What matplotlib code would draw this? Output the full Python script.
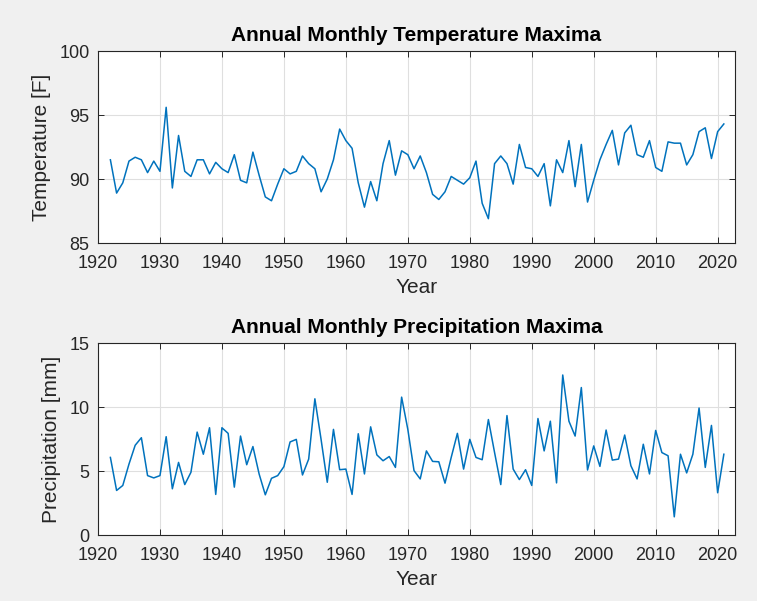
import matplotlib
matplotlib.use("Agg")
import matplotlib.pyplot as plt
import numpy as np

plt.rcParams['font.family'] = ['Liberation Sans', 'DejaVu Sans']

years = np.arange(1922, 2022)

# monthly maxima per year, degrees F
temp_max = [
    91.5, 88.9, 89.7, 91.4, 91.7, 91.5, 90.5, 91.4, 90.6, 95.6,
    89.3, 93.4, 90.6, 90.2, 91.5, 91.5, 90.4, 91.3, 90.8, 90.5,
    91.9, 89.9, 89.7, 92.1, 90.3, 88.6, 88.3, 89.6, 90.8, 90.4,
    90.6, 91.8, 91.2, 90.8, 89.0, 90.0, 91.5, 93.9, 93.0, 92.4,
    89.7, 87.8, 89.8, 88.3, 91.2, 93.0, 90.3, 92.2, 91.9, 90.8,
    91.8, 90.5, 88.8, 88.4, 89.0, 90.2, 89.9, 89.6, 90.1, 91.4,
    88.1, 86.9, 91.2, 91.8, 91.2, 89.6, 92.7, 90.9, 90.8, 90.2,
    91.2, 87.9, 91.5, 90.5, 93.0, 89.4, 92.7, 88.2, 89.9, 91.5,
    92.7, 93.8, 91.1, 93.6, 94.2, 91.9, 91.7, 93.0, 90.9, 90.6,
    92.9, 92.8, 92.8, 91.1, 91.9, 93.7, 94.0, 91.6, 93.7, 94.3,
]

# monthly maxima per year, mm
precip_max = [
    6.06, 3.48, 3.87, 5.54, 7.01, 7.60, 4.64, 4.46, 4.64, 7.68,
    3.61, 5.67, 3.94, 4.90, 8.04, 6.31, 8.38, 3.17, 8.38, 7.94,
    3.74, 7.73, 5.49, 6.91, 4.77, 3.14, 4.43, 4.64, 5.34, 7.27,
    7.47, 4.69, 5.93, 10.64, 7.47, 4.12, 8.25, 5.10, 5.15, 3.17,
    7.91, 4.77, 8.45, 6.26, 5.80, 6.13, 5.28, 10.77, 8.25, 5.03,
    4.38, 6.57, 5.75, 5.72, 4.05, 6.06, 7.94, 5.15, 7.47, 6.06,
    5.88, 9.02, 6.44, 3.94, 9.33, 5.15, 4.33, 5.10, 3.87, 9.10,
    6.57, 8.89, 4.07, 12.50, 8.89, 7.73, 11.52, 5.08, 6.96, 5.36,
    8.20, 5.85, 5.93, 7.81, 5.41, 4.38, 7.09, 4.77, 8.17, 6.44,
    6.19, 1.42, 6.31, 4.85, 6.31, 9.92, 5.28, 8.56, 3.30, 6.31,
]

line_color = '#0072BD'
text_color = '#262626'

fig = plt.figure(figsize=(7.57, 6.01), dpi=100, facecolor='#F0F0F0')
W, H = 757, 601

def make_axes(left, top, right, bottom):
    return fig.add_axes([left / W, 1 - bottom / H, (right - left) / W, (bottom - top) / H])

ax1 = make_axes(98, 51, 735, 243)
ax2 = make_axes(98, 343, 735, 535)

panels = [
    (ax1, temp_max, 'Annual Monthly Temperature Maxima', 'Temperature [F]', (85, 100), [85, 90, 95, 100]),
    (ax2, precip_max, 'Annual Monthly Precipitation Maxima', 'Precipitation [mm]', (0, 15), [0, 5, 10, 15]),
]

for ax, vals, title, ylabel, ylim, yticks in panels:
    ax.plot(years, vals, color=line_color, linewidth=1.1)
    ax.set_xlim(1920, 2022.8)
    ax.set_ylim(*ylim)
    ax.set_xticks(np.arange(1920, 2021, 10))
    ax.set_yticks(yticks)
    ax.grid(True, color='#DFDFDF', linewidth=0.8)
    ax.set_axisbelow(True)
    ax.tick_params(direction='in', length=4, top=True, right=True,
                   labelsize=13, colors=text_color, width=0.7)
    ax.tick_params(axis='x', pad=9)
    ax.tick_params(axis='y', pad=6)
    for sp in ax.spines.values():
        sp.set_color(text_color)
        sp.set_linewidth(0.8)
    ax.set_title(title, fontsize=15, fontweight='bold', color='black', pad=7)
    ax.set_xlabel('Year', fontsize=15, color=text_color, labelpad=4)
    ax.set_ylabel(ylabel, fontsize=15, color=text_color, labelpad=6)

fig.savefig('out.png', dpi=100, facecolor=fig.get_facecolor())
